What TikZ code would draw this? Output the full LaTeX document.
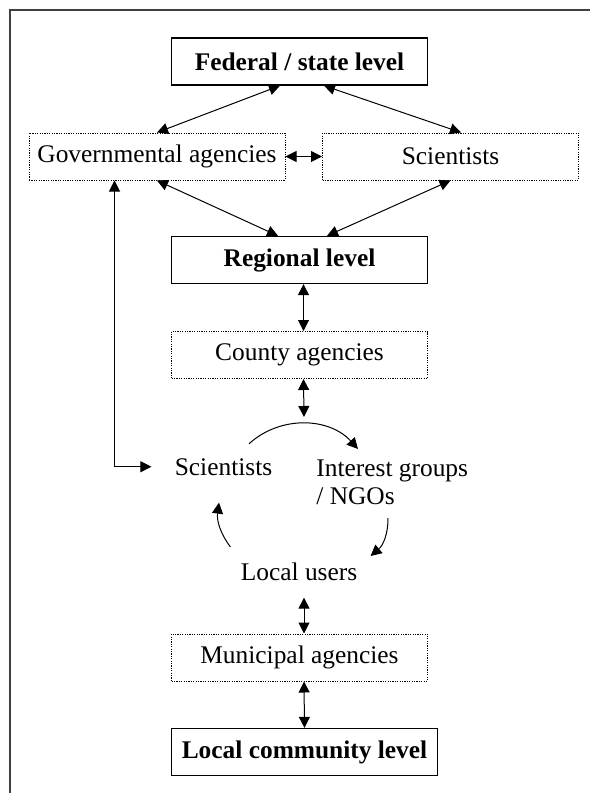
\documentclass[tikz,border=0pt]{standalone}
\usepackage{fontspec}
\setmainfont{Liberation Serif}
\usetikzlibrary{arrows.meta}
\newcommand\diagsize{\fontsize{12.7pt}{14pt}\selectfont}
\tikzset{
  level/.style={draw,line width=0.65pt,font=\diagsize\bfseries,minimum width=128pt,minimum height=23.5pt,inner xsep=5pt},
  agency/.style={draw,line width=0.5pt,dash pattern=on 0.6pt off 0.6pt,font=\diagsize,minimum width=128pt,minimum height=23.5pt},
  actor/.style={inner sep=0pt,font=\diagsize},
  link/.style={{Triangle[length=5.5pt,width=5.5pt]}-{Triangle[length=5.5pt,width=5.5pt]},line width=0.5pt},
  flow/.style={-{Triangle[length=5.5pt,width=5.5pt]},line width=0.5pt}
}
\begin{document}
\begin{tikzpicture}[x=0.5pt,y=0.5pt]
\useasboundingbox (0,0) rectangle (590,-793);
\draw[line width=0.75pt,black!75] (10,-793) -- (10,-10) -- (590,-10);

\node[level] (fed) at (299.5,-61.5) {Federal / state level};
\node[agency] (gov) at (157,-156.5) {Governmental agencies};
\node[agency] (sci) at (450.5,-156.5) {Scientists};
\node[level] (reg) at (299.5,-260) {Regional level};
\node[agency] (cty) at (299.5,-355) {County agencies};
\node[actor,anchor=base] (scil) at (223.5,-475) {Scientists};
\node[actor,anchor=north west,align=left] (ngo) at (316,-459.5) {Interest groups\\/ NGOs};
\node[actor,anchor=base] (usr) at (299,-580) {Local users};
\node[agency] (mun) at (299.5,-657.5) {Municipal agencies};
\node[level] (loc) at (304.5,-752) {Local community level};
\coordinate (cyc) at (304,-417);

\draw[link] ([xshift=-9.75pt]fed.south) -- (gov.north);
\draw[link] ([xshift=12.25pt]fed.south) -- ([xshift=5.25pt]sci.north);
\draw[link] (gov.east) -- (sci.west);
\draw[link] (gov.south) -- ([xshift=-10.75pt]reg.north);
\draw[link] (sci.south) -- ([xshift=13.75pt]reg.north);
\draw[link] ([xshift=2pt]reg.south) -- ([xshift=2pt]cty.north);
\draw[link] ([xshift=2pt]cty.south) -- (cyc);
\draw[link] ([xshift=-21.25pt]gov.south) |- ([xshift=-11.5pt]scil.west);

\draw[flow] ([shift={(25.5,14)}]scil.north) to[bend left=45] ([shift={(42,10.5)}]ngo.north west);
\draw[flow] ([shift={(72,-58.5)}]ngo.north west) to[bend left=25] ([shift={(13,6)}]usr.north east);
\draw[flow] ([shift={(-10,15)}]usr.north west) to[bend left=22] ([shift={(-4.5,-27)}]scil.south);

\draw[link] ([shift={(5,-17)}]usr.south) -- ([xshift=2.25pt]mun.north);
\draw[link] ([xshift=2.25pt]mun.south) -- (loc.north);
\end{tikzpicture}
\end{document}
